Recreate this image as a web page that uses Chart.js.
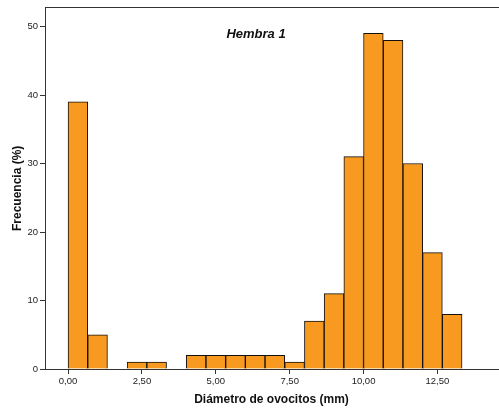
<!DOCTYPE html>
<html>
<head>
<meta charset="utf-8">
<script src="https://cdn.jsdelivr.net/npm/chart.js@4/dist/chart.umd.min.js"></script>
<style>
  html, body { margin: 0; padding: 0; background: #fff; }
  canvas { display: block; }
</style>
</head>
<body>
<canvas id="hist" width="499" height="414"></canvas>
<script>
// Histogram data (bin centres in mm, bin width 2/3 mm)
const binCenters = [0.333, 1.000, 1.667, 2.333, 3.000, 3.667, 4.333, 5.000, 5.667, 6.333,
                    7.000, 7.667, 8.333, 9.000, 9.667, 10.333, 11.000, 11.667, 12.333, 13.000];
const frequency = [39, 5, 0, 1, 1, 0, 2, 2, 2, 2, 2, 1, 7, 11, 31, 49, 48, 30, 17, 8];

// Ticks
const xTickValues = [0, 2.5, 5, 7.5, 10, 12.5];
const xTickLabels = ['0,00', '2,50', '5,00', '7,50', '10,00', '12,50'];
const yTickValues = [0, 10, 20, 30, 40, 50];

const FONT = "'Liberation Sans', Arial, sans-serif";
const AXIS = '#333333';

// Chart title drawn inside the plot area
const innerTitle = {
  id: 'innerTitle',
  afterDraw(chart) {
    const { ctx, chartArea } = chart;
    ctx.save();
    ctx.font = "italic bold 13px " + FONT;
    ctx.fillStyle = '#111';
    ctx.textAlign = 'center';
    ctx.textBaseline = 'middle';
    ctx.fillText('Hembra 1', chartArea.left + 211, chartArea.top + 27);
    ctx.restore();
  }
};

const histChart = new Chart(document.getElementById('hist'), {
  type: 'bar',
  data: {
    datasets: [{
      data: binCenters.map((x, i) => ({ x: x, y: frequency[i] })),
      backgroundColor: '#F79A1F',
      borderColor: '#111111',
      borderWidth: 1,
      barPercentage: 1,
      categoryPercentage: 1
    }]
  },
  options: {
    responsive: false,
    animation: false,
    devicePixelRatio: 1,
    layout: { padding: { right: 1 } },
    plugins: {
      legend: { display: false },
      tooltip: { enabled: false }
    },
    scales: {
      x: {
        type: 'linear',
        position: 'bottom',
        offset: false,
        min: -0.78,
        max: 14.55,
        afterBuildTicks: s => { s.ticks = xTickValues.map(v => ({ value: v })); },
        afterFit: s => { s.height = 45; },
        grid: { offset: false, drawOnChartArea: false, drawTicks: true, tickLength: 5, color: AXIS },
        border: { color: AXIS, width: 1 },
        ticks: {
          autoSkip: false,
          maxRotation: 0,
          padding: 2,
          color: '#222',
          font: { family: FONT, size: 9.5 },
          callback: (v, i) => xTickLabels[i]
        },
        title: {
          display: true,
          text: 'Diámetro de ovocitos (mm)',
          color: '#111',
          font: { family: FONT, size: 12, weight: 'bold' },
          padding: 7
        }
      },
      top: {
        type: 'linear',
        position: 'top',
        min: 0,
        max: 1,
        afterFit: s => { s.height = 4; },
        grid: { display: false },
        border: { color: AXIS, width: 1 },
        ticks: { display: false }
      },
      y: {
        min: 0,
        max: 52.75,
        afterBuildTicks: s => { s.ticks = yTickValues.map(v => ({ value: v })); },
        afterFit: s => { s.width = 45; },
        grid: { drawOnChartArea: false, drawTicks: true, tickLength: 5, color: AXIS },
        border: { color: AXIS, width: 1 },
        ticks: {
          padding: 2,
          color: '#222',
          font: { family: FONT, size: 9.5 }
        },
        title: {
          display: true,
          text: 'Frecuencia (%)',
          color: '#111',
          font: { family: FONT, size: 12, weight: 'bold' },
          padding: 10
        }
      }
    }
  },
  plugins: [innerTitle]
});
</script>
</body>
</html>
